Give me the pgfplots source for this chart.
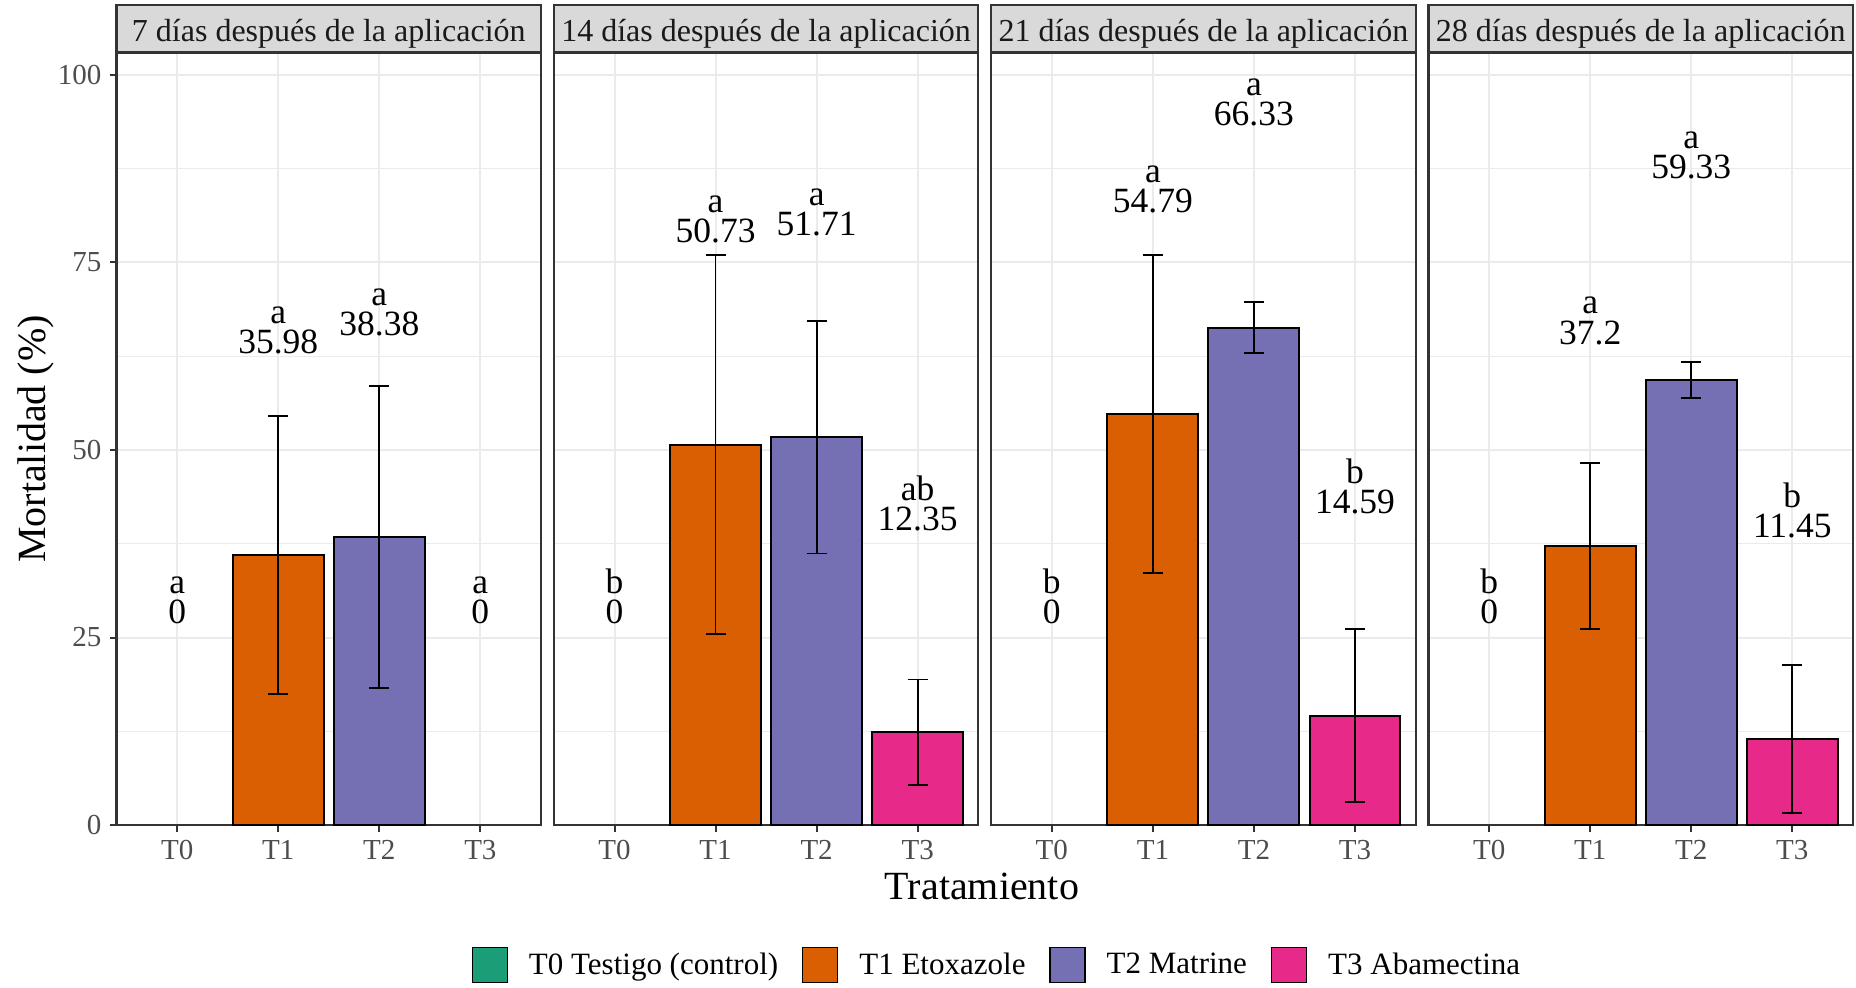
\documentclass[border=0pt]{standalone}
\usepackage{pgfplots}
\pgfplotsset{compat=1.18}
\usepackage{pgfplotstable}
\usepackage{fontspec}
\setmainfont{Liberation Serif}

% Dark2 palette and theme greys
\definecolor{tZero}{HTML}{1B9E77}
\definecolor{tOne}{HTML}{D95F02}
\definecolor{tTwo}{HTML}{7570B3}
\definecolor{tThree}{HTML}{E7298A}
\definecolor{stripfill}{HTML}{D9D9D9}
\definecolor{frame}{HTML}{333333}
\definecolor{gridc}{HTML}{EBEBEB}
\definecolor{ticktext}{HTML}{4D4D4D}
\definecolor{striptext}{HTML}{1A1A1A}

% mean mortality (%), standard deviation and significance letter
\pgfplotstableread{
x m     sd    let
1 0     0     a
2 35.98 18.5  a
3 38.38 20.1  a
4 0     0     a
}\dA
\pgfplotstableread{
x m     sd    let
1 0     0     b
2 50.73 25.3  a
3 51.71 15.5  a
4 12.35 7.05  ab
}\dB
\pgfplotstableread{
x m     sd    let
1 0     0     b
2 54.79 21.2  a
3 66.33 3.4   a
4 14.59 11.5  b
}\dC
\pgfplotstableread{
x m     sd    let
1 0     0     b
2 37.2  11.05 a
3 59.33 2.45  a
4 11.45 9.9   b
}\dD

\pgfplotsset{
  panel/.style={
    scale only axis, width=212.2pt, height=386pt,
    anchor=south west,
    xmin=0.4, xmax=4.6, ymin=0, ymax=102.93,
    xtick={1,2,3,4}, xticklabels={T0,T1,T2,T3},
    ytick={0,25,50,75,100}, minor y tick num=1,
    tick pos=left, tick align=outside,
    major tick length=3.35pt, minor tick length=0pt,
    tick style={color=frame, line width=1pt},
    axis line style={color=frame, line width=1.1pt},
    xmajorgrids, ymajorgrids, yminorgrids,
    major grid style={color=gridc, line width=1pt},
    minor grid style={color=gridc, line width=0.6pt},
    xticklabel style={font=\fontsize{14.5}{17}\selectfont, text=ticktext, inner sep=0pt, yshift=-4pt},
    yticklabel style={font=\fontsize{14.5}{17}\selectfont, text=ticktext, inner sep=0pt, xshift=-4pt},
    /pgf/number format/assume math mode=true,
    every axis title/.style={at={(0.5,1)}, anchor=south, yshift=0pt,
      fill=stripfill, draw=frame, line width=1.1pt,
      minimum width=212.2pt, minimum height=23.5pt, inner sep=0pt,
      text height=18.5pt, text depth=5pt,
      font=\fontsize{16}{19}\selectfont, text=striptext},
    clip=false,
  },
  bar/.style={forget plot, ybar, bar width=0.9, bar shift=0pt,
    fill=#1, draw=black, line width=1pt,
    error bars/y dir=both, error bars/y explicit,
    error bars/error bar style={color=black, line width=0.9pt},
    error bars/error mark options={rotate=90, color=black, line width=0.9pt, mark size=5pt}},
  numlab/.style={forget plot, only marks, mark=*, mark size=0pt,
    mark options={draw=none, fill=none},
    nodes near coords, point meta=explicit symbolic,
    every node near coord/.append style={anchor=base, yshift=#1,
      inner sep=0pt, font=\fontsize{17.75}{18}\selectfont, text=black}},
}

\begin{document}
\begin{tikzpicture}
\path[use as bounding box] (-58.3pt,-81pt) rectangle (869.7pt,412.5pt);

% 7 days
\begin{axis}[panel, at={(0pt,0pt)},
  title={7 días después de la aplicación},
  ylabel={Mortalidad (\%)},
  ylabel style={at={(axis description cs:-0.191,0.5)}, anchor=center, font=\fontsize{20}{24}\selectfont},
  xlabel={Tratamiento},
  xlabel style={at={(axis description cs:2.039,-0.0797)}, anchor=center, font=\fontsize{20}{24}\selectfont},
  legend columns=4,
  legend image code/.code={\draw[#1] (0pt,-8.75pt) rectangle (17.5pt,8.75pt);},
  legend style={at={(axis description cs:2.072,-0.1813)}, anchor=center,
    draw=none, fill=none, font=\fontsize{15.5}{18}\selectfont,
    nodes={inner sep=0pt},
    /tikz/every odd column/.append style={column sep=10.5pt},
    /tikz/every even column/.append style={column sep=12pt}},
]
\addplot[bar=tOne, restrict x to domain=1.5:2.5] table[x=x, y=m, y error=sd] {\dA};
\addplot[bar=tTwo, restrict x to domain=2.5:3.5] table[x=x, y=m, y error=sd] {\dA};
\addplot[numlab=100.9pt] table[x=x, y=m, meta=m] {\dA};
\addplot[numlab=116pt] table[x=x, y=m, meta=let] {\dA};
\addlegendimage{fill=tZero, draw=black, line width=0.6pt}
\addlegendentry{T0 Testigo (control)}
\addlegendimage{fill=tOne, draw=black, line width=0.6pt}
\addlegendentry{T1 Etoxazole}
\addlegendimage{fill=tTwo, draw=black, line width=0.6pt}
\addlegendentry{T2 Matrine}
\addlegendimage{fill=tThree, draw=black, line width=0.6pt}
\addlegendentry{T3 Abamectina}
\end{axis}

% 14 days
\begin{axis}[panel, at={(218.65pt,0pt)},
  title={14 días después de la aplicación},
  yticklabels={}, major y tick style={draw=none}]
\addplot[bar=tOne, restrict x to domain=1.5:2.5] table[x=x, y=m, y error=sd] {\dB};
\addplot[bar=tTwo, restrict x to domain=2.5:3.5] table[x=x, y=m, y error=sd] {\dB};
\addplot[bar=tThree, restrict x to domain=3.5:4.5] table[x=x, y=m, y error=sd] {\dB};
\addplot[numlab=100.9pt] table[x=x, y=m, meta=m] {\dB};
\addplot[numlab=116pt] table[x=x, y=m, meta=let] {\dB};
\end{axis}

% 21 days
\begin{axis}[panel, at={(437.3pt,0pt)},
  title={21 días después de la aplicación},
  yticklabels={}, major y tick style={draw=none}]
\addplot[bar=tOne, restrict x to domain=1.5:2.5] table[x=x, y=m, y error=sd] {\dC};
\addplot[bar=tTwo, restrict x to domain=2.5:3.5] table[x=x, y=m, y error=sd] {\dC};
\addplot[bar=tThree, restrict x to domain=3.5:4.5] table[x=x, y=m, y error=sd] {\dC};
\addplot[numlab=100.9pt] table[x=x, y=m, meta=m] {\dC};
\addplot[numlab=116pt] table[x=x, y=m, meta=let] {\dC};
\end{axis}

% 28 days
\begin{axis}[panel, at={(655.95pt,0pt)},
  title={28 días después de la aplicación},
  yticklabels={}, major y tick style={draw=none}]
\addplot[bar=tOne, restrict x to domain=1.5:2.5] table[x=x, y=m, y error=sd] {\dD};
\addplot[bar=tTwo, restrict x to domain=2.5:3.5] table[x=x, y=m, y error=sd] {\dD};
\addplot[bar=tThree, restrict x to domain=3.5:4.5] table[x=x, y=m, y error=sd] {\dD};
\addplot[numlab=100.9pt] table[x=x, y=m, meta=m] {\dD};
\addplot[numlab=116pt] table[x=x, y=m, meta=let] {\dD};
\end{axis}
\end{tikzpicture}
\end{document}
